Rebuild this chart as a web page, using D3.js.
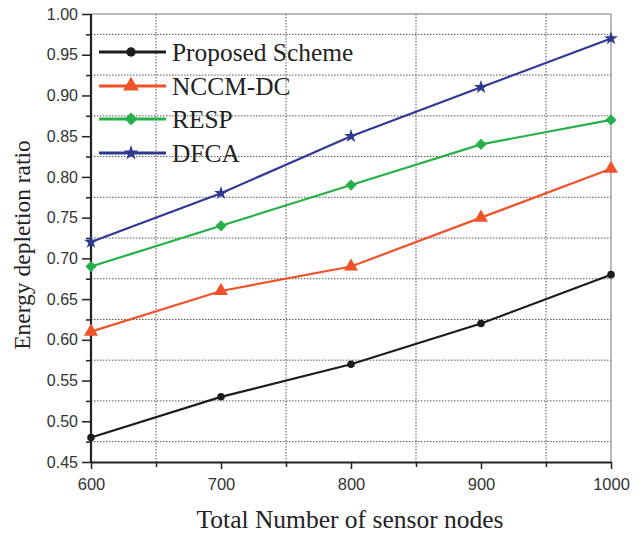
<!DOCTYPE html>
<html>
<head>
<meta charset="utf-8">
<script src="https://cdn.jsdelivr.net/npm/d3@7"></script>
<style>
  html, body { margin: 0; padding: 0; background: #fff; }
  svg { display: block; }
</style>
</head>
<body>
<svg id="chart" width="642" height="537"></svg>
<script>
// Sensor network sizes on the x-axis
const nodes = [600, 700, 800, 900, 1000];

// Energy depletion ratio per scheme
const proposed = [0.48, 0.53, 0.57, 0.62, 0.68];
const nccmdc   = [0.61, 0.66, 0.69, 0.75, 0.81];
const resp     = [0.69, 0.74, 0.79, 0.84, 0.87];
const dfca     = [0.72, 0.78, 0.85, 0.91, 0.97];

const seriesNames = ["Proposed Scheme", "NCCM-DC", "RESP", "DFCA"];
const xTicks = [600, 700, 800, 900, 1000];
const yTicks = [0.45, 0.50, 0.55, 0.60, 0.65, 0.70, 0.75, 0.80, 0.85, 0.90, 0.95, 1.00];

const series = [
  { name: seriesNames[0], values: proposed, color: "#1c1c1c", symbol: d3.symbolCircle,   size: 45,  lsize: 70 },
  { name: seriesNames[1], values: nccmdc,   color: "#f0522a", symbol: d3.symbolTriangle, size: 85,  lsize: 110 },
  { name: seriesNames[2], values: resp,     color: "#26b04a", symbol: d3.symbolDiamond2, size: 80,  lsize: 105 },
  { name: seriesNames[3], values: dfca,     color: "#2e3a92", symbol: d3.symbolStar,     size: 60,  lsize: 70 }
];

const svg = d3.select("#chart");
const L = 91, R = 611, T = 14, B = 462;

const x = d3.scaleLinear().domain([600, 1000]).range([L, R]);
const y = d3.scaleLinear().domain([0.45, 1.00]).range([B, T]);

const minorX = d3.range(650, 1000, 100);
const minorY = d3.range(0.475, 1.0, 0.05);

// Dotted grid on the minor positions
const grid = svg.append("g");
grid.selectAll("line.gx").data(minorX).join("line")
  .attr("x1", d => x(d)).attr("x2", d => x(d))
  .attr("y1", T).attr("y2", B)
  .attr("stroke", "#555").attr("stroke-width", 1)
  .attr("stroke-dasharray", "1.5,1.5");
grid.selectAll("line.gy").data(minorY).join("line")
  .attr("x1", L).attr("x2", R)
  .attr("y1", d => y(d)).attr("y2", d => y(d))
  .attr("stroke", "#555").attr("stroke-width", 1)
  .attr("stroke-dasharray", "1.5,1.5");

// Frame: thin top and right
svg.append("line").attr("x1", L).attr("x2", R).attr("y1", T).attr("y2", T)
  .attr("stroke", "#777").attr("stroke-width", 1);
svg.append("line").attr("x1", R).attr("x2", R).attr("y1", T).attr("y2", B)
  .attr("stroke", "#777").attr("stroke-width", 1);

// Axes
const tickFont = "'Liberation Sans', Arial, sans-serif";

const xAxis = d3.axisBottom(x).tickValues(xTicks).tickFormat(d3.format("d"))
  .tickSizeInner(7).tickSizeOuter(0).tickPadding(9);
const gx = svg.append("g").attr("transform", `translate(0,${B})`).call(xAxis);
gx.selectAll(".tick line").attr("stroke", "#222").attr("stroke-width", 1.5);
gx.select(".domain").attr("stroke", "#222").attr("stroke-width", 2.2);
gx.selectAll(".tick text").attr("font-family", tickFont).attr("font-size", 16.5).attr("fill", "#333");
svg.append("g").attr("transform", `translate(0,${B})`)
  .call(d3.axisBottom(x).tickValues(minorX).tickFormat("").tickSizeInner(5).tickSizeOuter(0))
  .call(g => g.select(".domain").remove())
  .selectAll(".tick line").attr("stroke", "#222").attr("stroke-width", 1.5);

const yAxis = d3.axisLeft(y).tickValues(yTicks).tickFormat(d3.format(".2f"))
  .tickSizeInner(9).tickSizeOuter(0).tickPadding(4);
const gy = svg.append("g").attr("transform", `translate(${L},0)`).call(yAxis);
gy.selectAll(".tick line").attr("stroke", "#222").attr("stroke-width", 1.5);
gy.select(".domain").attr("stroke", "#222").attr("stroke-width", 2.2)
  .attr("d", `M0,${T}V${B + 1}`);
gy.selectAll(".tick text").attr("font-family", tickFont).attr("font-size", 16).attr("fill", "#333");
svg.append("g").attr("transform", `translate(${L},0)`)
  .call(d3.axisLeft(y).tickValues(minorY).tickFormat("").tickSizeInner(5).tickSizeOuter(0))
  .call(g => g.select(".domain").remove())
  .selectAll(".tick line").attr("stroke", "#222").attr("stroke-width", 1.5);

// Axis titles
const titleFont = "'Liberation Serif', 'Times New Roman', serif";
svg.append("text")
  .attr("x", 350).attr("y", 528)
  .attr("text-anchor", "middle")
  .attr("font-family", titleFont).attr("font-size", 25.5).attr("fill", "#222")
  .text("Total Number of sensor nodes");
svg.append("text")
  .attr("transform", `translate(30,245) rotate(-90)`)
  .attr("text-anchor", "middle")
  .attr("font-family", titleFont).attr("font-size", 23.5).attr("fill", "#222")
  .text("Energy depletion ratio");

// Series lines and markers
const line = d3.line().x((d, i) => x(nodes[i])).y(d => y(d));
series.forEach(s => {
  svg.append("path").datum(s.values)
    .attr("d", line).attr("fill", "none")
    .attr("stroke", s.color).attr("stroke-width", 2.2);
  svg.append("g").selectAll("path").data(s.values).join("path")
    .attr("transform", (d, i) => `translate(${x(nodes[i])},${y(d)})`)
    .attr("d", d3.symbol().type(s.symbol).size(s.size))
    .attr("fill", s.color);
});

// Legend
const legendY = [52, 86, 119, 153];
const lg = svg.append("g");
series.forEach((s, i) => {
  lg.append("line").attr("x1", 99).attr("x2", 166)
    .attr("y1", legendY[i]).attr("y2", legendY[i])
    .attr("stroke", s.color).attr("stroke-width", 3);
  lg.append("path").attr("transform", `translate(131,${legendY[i]})`)
    .attr("d", d3.symbol().type(s.symbol).size(s.lsize))
    .attr("fill", s.color);
  lg.append("text").attr("x", 172).attr("y", legendY[i] + 8.5)
    .attr("font-family", titleFont).attr("font-size", 25.4).attr("fill", "#222")
    .text(s.name);
});
</script>
</body>
</html>
